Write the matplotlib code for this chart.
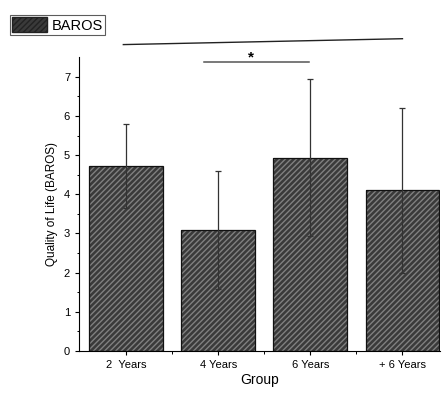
import numpy as np
import matplotlib
matplotlib.use('Agg')
import matplotlib.pyplot as plt
from matplotlib.patches import Patch

plt.rcParams['font.family'] = ['Liberation Sans', 'DejaVu Sans']

# Data
groups = ['2  Years', '4 Years', '6 Years', '+ 6 Years']
means = [4.73, 3.09, 4.93, 4.10]
errs = [1.07, 1.50, 2.00, 2.10]

fig = plt.figure(figsize=(4.42, 3.94), dpi=100)
ax = fig.add_axes([0.179, 0.109, 0.817, 0.746])

x = np.arange(len(groups))
ax.bar(x, means, width=0.8, color='#3a3a3a', edgecolor='#808080',
       hatch='//////', linewidth=0)
ax.bar(x, means, width=0.8, fill=False, edgecolor='#111111', linewidth=0.9)
ax.errorbar(x, means, yerr=errs, fmt='none', ecolor='#333333',
            elinewidth=0.9, capsize=2, capthick=0.9)

ax.set_xlim(-0.51, 3.41)
ax.set_ylim(0, 7.5)
ax.set_xticks(x)
ax.set_xticklabels(groups, fontsize=8)
ax.set_xticks(x[:-1] + 0.5, minor=True)
ax.set_yticks(range(8))
ax.set_yticks(np.arange(0.5, 7.5, 1), minor=True)
ax.tick_params(axis='both', which='major', labelsize=8, length=3, width=0.8)
ax.tick_params(axis='both', which='minor', length=1.8, width=0.7)
for s in ['top', 'right']:
    ax.spines[s].set_visible(False)
ax.set_xlabel('Group', fontsize=10, labelpad=2)
ax.set_ylabel('Quality of Life (BAROS)', fontsize=8.5)

# significance bars
ax.plot([-0.03, 3.0], [7.82, 7.97], color='#222222', lw=1.0, clip_on=False)
ax.plot([0.85, 1.99], [7.37, 7.37], color='#555555', lw=1.1, clip_on=False)
ax.text(1.36, 7.30, '*', ha='center', va='bottom', fontsize=11,
        fontweight='bold', clip_on=False)

leg = fig.legend(handles=[Patch(facecolor='#3a3a3a', edgecolor='#222222',
                                hatch='//////', label='BAROS')],
                 loc='upper left', bbox_to_anchor=(0.022, 0.962),
                 fontsize=10.5, frameon=True, fancybox=False, handlelength=2.4,
                 handleheight=1.2, borderpad=0.15, handletextpad=0.35,
                 borderaxespad=0)
leg.get_frame().set_edgecolor('#333333')
leg.get_frame().set_linewidth(0.8)

fig.savefig('out.png', dpi=100)
